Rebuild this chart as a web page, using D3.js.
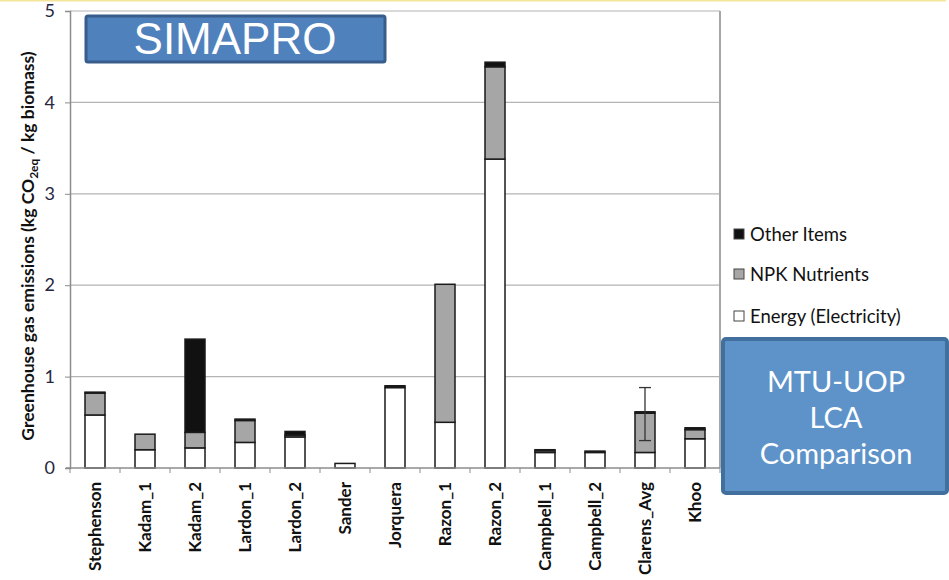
<!DOCTYPE html>
<html>
<head>
<meta charset="UTF-8">
<script src="https://cdn.jsdelivr.net/npm/d3@7"></script>
<style>
  body { margin: 0; background: #fff; }
  svg { display: block; }
</style>
</head>
<body>
<div id="chart"></div>
<script>
// data
const studies = ["Stephenson", "Kadam_1", "Kadam_2", "Lardon_1", "Lardon_2", "Sander",
  "Jorquera", "Razon_1", "Razon_2", "Campbell_1", "Campbell_2", "Clarens_Avg", "Khoo"];
const energy = [0.58, 0.20, 0.22, 0.28, 0.34, 0.05, 0.88, 0.50, 3.38, 0.17, 0.17, 0.17, 0.32];
const npk    = [0.24, 0.17, 0.17, 0.24, 0.02, 0.00, 0.00, 1.51, 1.01, 0.02, 0.00, 0.43, 0.10];
const other  = [0.01, 0.00, 1.02, 0.015, 0.04, 0.00, 0.02, 0.00, 0.05, 0.01, 0.015, 0.015, 0.02];
const seriesNames = ["Energy (Electricity)", "NPK Nutrients", "Other Items"];
const errLow  = {"Clarens_Avg": 0.30};
const errHigh = {"Clarens_Avg": 0.88};
const yTicks = [0, 1, 2, 3, 4, 5];

const W = 949, H = 580;
const margin = {top: 11, left: 70, right: 229, bottom: 112};
const width = W - margin.left - margin.right,
      height = H - margin.top - margin.bottom;

const svg = d3.select("#chart").append("svg")
    .attr("width", W)
    .attr("height", H);

// thin yellow line on top of the slide
svg.append("line")
    .attr("x1", 0).attr("x2", 946).attr("y1", 0.5).attr("y2", 0.5)
    .attr("stroke", "#f3e69a").attr("stroke-width", 2);

const g = svg.append("g")
    .attr("transform", "translate(" + margin.left + "," + margin.top + ")");

const x = d3.scaleBand().domain(studies).range([0, width]).paddingInner(0.6).paddingOuter(0.3);
const y = d3.scaleLinear().domain([0, 5]).range([height, 0]);

// gridlines
g.selectAll(".grid").data(yTicks.slice(1)).enter().append("line")
    .attr("x1", 0).attr("x2", width)
    .attr("y1", d => y(d)).attr("y2", d => y(d))
    .attr("stroke", "#b4b4b4").attr("stroke-width", 1.2);

// right border
g.append("line")
    .attr("x1", width).attr("x2", width).attr("y1", 0).attr("y2", height)
    .attr("stroke", "#a6a6a6").attr("stroke-width", 2);

// y axis
const yAxis = g.append("g")
    .call(d3.axisLeft(y).tickValues(yTicks).tickFormat(d3.format("d")).tickSize(5).tickPadding(10));
yAxis.select(".domain").attr("stroke", "#8c8c8c").attr("stroke-width", 1.5);
yAxis.selectAll(".tick line").attr("stroke", "#8c8c8c");
yAxis.selectAll("text")
    .attr("font-family", "Lato, 'Open Sans', sans-serif")
    .attr("font-size", 18).attr("fill", "#262640");

// stacked bars
const table = studies.map((s, i) => ({study: s, e: energy[i], n: npk[i], o: other[i]}));
const stack = d3.stack().keys(["e", "n", "o"])(table);
const fills = ["#ffffff", "#a6a6a6", "#111111"];

stack.forEach((layer, li) => {
  g.selectAll(".bar" + li).data(layer.filter(d => d[1] - d[0] > 0)).enter().append("rect")
      .attr("x", d => x(d.data.study))
      .attr("width", x.bandwidth())
      .attr("y", d => y(d[1]))
      .attr("height", d => y(d[0]) - y(d[1]))
      .attr("fill", fills[li])
      .attr("stroke", "#1a1a1a")
      .attr("stroke-width", 1.5);
});

// error bar
Object.keys(errLow).forEach(k => {
  const cx = x(k) + x.bandwidth() / 2;
  const eb = g.append("g").attr("stroke", "#333").attr("stroke-width", 1.3);
  eb.append("line").attr("x1", cx).attr("x2", cx).attr("y1", y(errHigh[k])).attr("y2", y(errLow[k]));
  eb.append("line").attr("x1", cx - 6).attr("x2", cx + 6).attr("y1", y(errHigh[k])).attr("y2", y(errHigh[k]));
  eb.append("line").attr("x1", cx - 6).attr("x2", cx + 6).attr("y1", y(errLow[k])).attr("y2", y(errLow[k]));
});

// x axis with ticks at band edges
const xAxis = g.append("g").attr("transform", "translate(0," + height + ")");
xAxis.append("line").attr("x1", -4).attr("x2", width).attr("y1", 0).attr("y2", 0)
    .attr("stroke", "#8c8c8c").attr("stroke-width", 1.5);
const edges = studies.map(s => x(s) - x.step() * x.paddingInner() / 2).concat([width]);
xAxis.selectAll(".edge").data(edges).enter().append("line")
    .attr("x1", d => d).attr("x2", d => d).attr("y1", 0).attr("y2", 5)
    .attr("stroke", "#8c8c8c");
xAxis.selectAll(".lbl").data(studies).enter().append("text")
    .attr("transform", d => "translate(" + (x(d) + x.bandwidth() / 2 + 6) + ",14) rotate(-90)")
    .attr("text-anchor", "end")
    .attr("font-family", "Lato, 'Open Sans', sans-serif")
    .attr("font-weight", "bold")
    .attr("font-size", 17)
    .attr("fill", "#111")
    .text(d => d);

// y axis title
const yt = svg.append("text")
    .attr("transform", "translate(34,246) rotate(-90)")
    .attr("text-anchor", "middle")
    .attr("font-family", "Lato, 'Open Sans', sans-serif")
    .attr("font-weight", "bold")
    .attr("font-size", 17.5)
    .attr("fill", "#111");
yt.append("tspan").text("Greenhouse gas  emissions (kg CO");
yt.append("tspan").attr("font-size", 12).attr("dy", 4).text("2eq");
yt.append("tspan").attr("dy", -4).text(" / kg biomass)");

// legend
const legend = svg.append("g").attr("transform", "translate(734,0)");
const legendItems = [
  {name: seriesNames[2], fill: fills[2], y: 235},
  {name: seriesNames[1], fill: fills[1], y: 275},
  {name: seriesNames[0], fill: fills[0], y: 317}
];
legendItems.forEach(d => {
  legend.append("rect").attr("x", 0).attr("y", d.y - 6).attr("width", 10).attr("height", 10)
      .attr("fill", d.fill).attr("stroke", "#444").attr("stroke-width", 1);
  legend.append("text").attr("x", 16).attr("y", d.y + 6)
      .attr("font-family", "Lato, 'Open Sans', sans-serif")
      .attr("font-size", 18.5).attr("fill", "#111")
      .text(d.name);
});

// SIMAPRO label box
svg.append("rect").attr("x", 86).attr("y", 16).attr("width", 299).attr("height", 46)
    .attr("fill", "#4f81bd").attr("stroke", "#385d8a").attr("stroke-width", 3).attr("rx", 2);
svg.append("text").attr("x", 235).attr("y", 54)
    .attr("text-anchor", "middle")
    .attr("font-family", "'Liberation Sans', Arial, sans-serif")
    .attr("font-size", 44).attr("fill", "#fff")
    .text("SIMAPRO");

// MTU-UOP box
svg.append("rect").attr("x", 723).attr("y", 339).attr("width", 224).attr("height", 154)
    .attr("fill", "#5e93c9").attr("stroke", "#41709f").attr("stroke-width", 4).attr("rx", 3);
const boxText = ["MTU-UOP", "LCA", "Comparison"];
svg.selectAll(".bt").data(boxText).enter().append("text")
    .attr("x", 836).attr("y", (d, i) => 392 + i * 36)
    .attr("text-anchor", "middle")
    .attr("font-family", "Lato, 'Open Sans', sans-serif")
    .attr("font-size", 29).attr("fill", "#fff")
    .text(d => d);
</script>
</body>
</html>
